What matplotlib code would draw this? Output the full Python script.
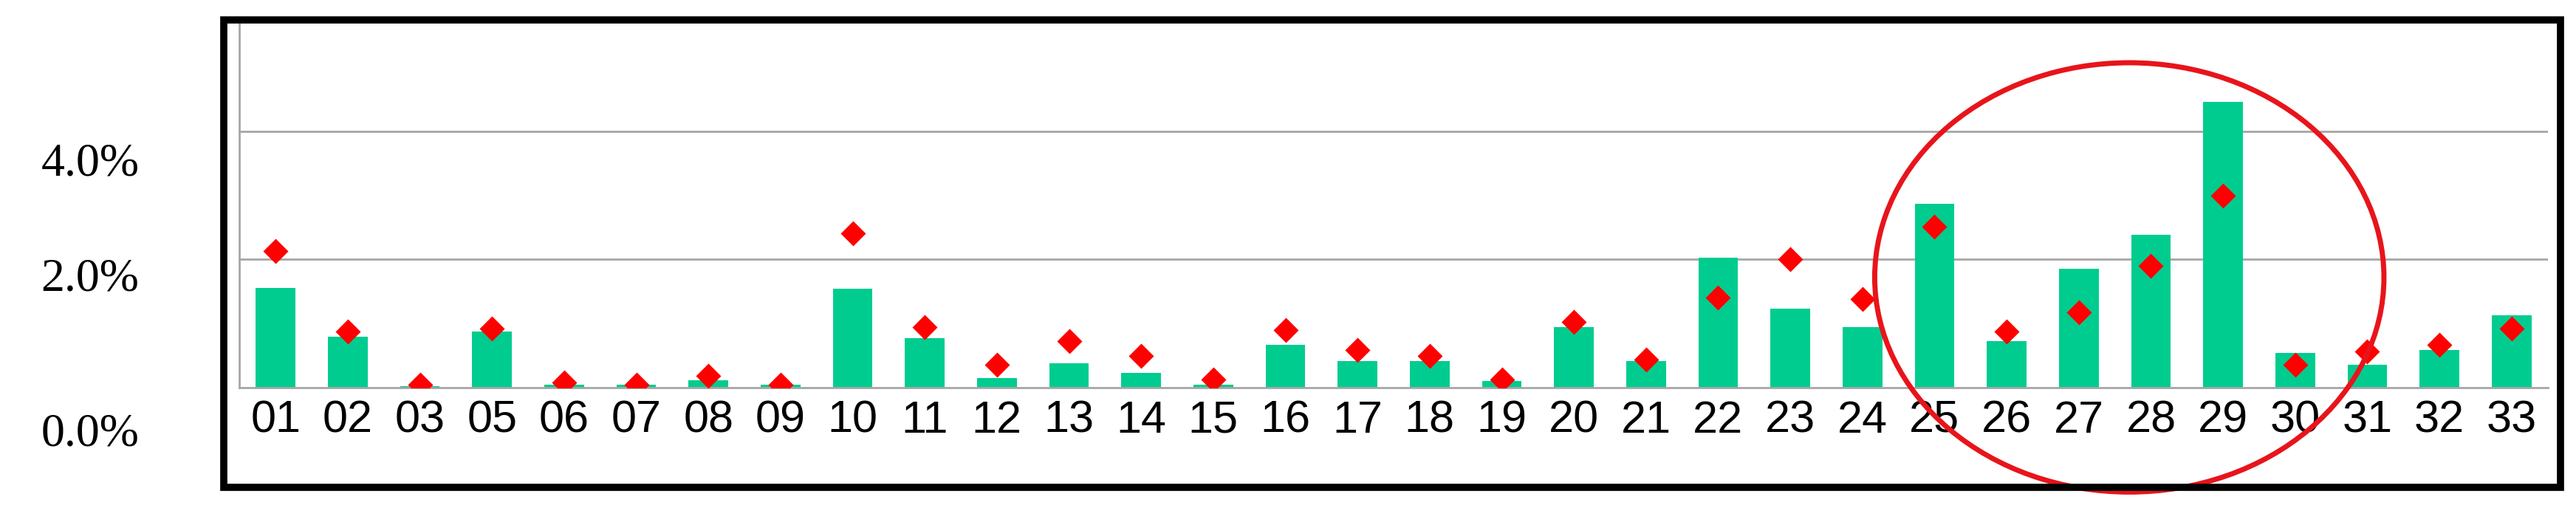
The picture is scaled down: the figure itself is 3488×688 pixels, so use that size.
import matplotlib
matplotlib.use("Agg")
import matplotlib.pyplot as plt
from matplotlib.patches import Ellipse, Rectangle
import numpy as np

categories = ["01", "02", "03", "05", "06", "07", "08", "09", "10", "11", "12", "13", "14", "15", "16", "17",
              "18", "19", "20", "21", "22", "23", "24", "25", "26", "27", "28", "29", "30", "31", "32", "33"]
bar_values = [1.56, 0.80, 0.02, 0.87, 0.05, 0.04, 0.12, 0.05, 1.54, 0.77, 0.15, 0.38, 0.23, 0.05, 0.67, 0.41,
              0.41, 0.10, 0.95, 0.41, 2.03, 1.23, 0.95, 2.87, 0.72, 1.85, 2.38, 4.46, 0.54, 0.36, 0.59, 1.13]
diamond_values = [2.13, 0.87, 0.05, 0.92, 0.08, 0.05, 0.18, 0.05, 2.41, 0.95, 0.36, 0.72, 0.49, 0.13, 0.90, 0.59,
                  0.49, 0.13, 1.03, 0.44, 1.41, 2.00, 1.38, 2.51, 0.87, 1.18, 1.90, 3.00, 0.36, 0.56, 0.67, 0.92]
ytick_labels = ["4.0%", "2.0%", "0.0%"]

fig = plt.figure(figsize=(34.88, 6.88), dpi=100)
ax = fig.add_axes([0.093, 0.237, 0.896, 0.724])
x = np.arange(len(categories))

ax.set_axisbelow(True)
for g in [2, 4]:
    ax.axhline(g, color="#a6a6a6", lw=2, zorder=0)
ax.bar(x, bar_values, width=0.55, color="#00cc8f", zorder=2)
ax.scatter(x, diamond_values, marker="D", s=300, color="#ff0000", zorder=3, linewidths=0)

ax.set_xlim(-0.5, len(categories) - 0.5)
ax.set_ylim(0, 5.74)
ax.set_yticks([])
ax.set_xticks(x)
ax.set_xticklabels(categories, family="Liberation Sans", fontsize=44)
ax.tick_params(axis="x", length=0, pad=12)
for s in ["top", "right"]:
    ax.spines[s].set_visible(False)
ax.spines["left"].set_color("#a6a6a6")
ax.spines["left"].set_linewidth(2)
ax.spines["bottom"].set_color("#a6a6a6")
ax.spines["bottom"].set_linewidth(2)

ax.add_patch(Ellipse((25.7, 1.72), 7.06, 6.7, fill=False, edgecolor="#e8141b",
                     lw=5, clip_on=False, zorder=4))

for lab, yy in zip(ytick_labels, [0.677, 0.45, 0.144]):
    fig.text(0.035, yy, lab, family="Liberation Serif", fontsize=46, ha="center", va="center")

fig.add_artist(Rectangle((0.087, 0.04), 0.907, 0.921, transform=fig.transFigure,
                         fill=False, edgecolor="black", lw=7))

fig.savefig("out.png", dpi=100)
